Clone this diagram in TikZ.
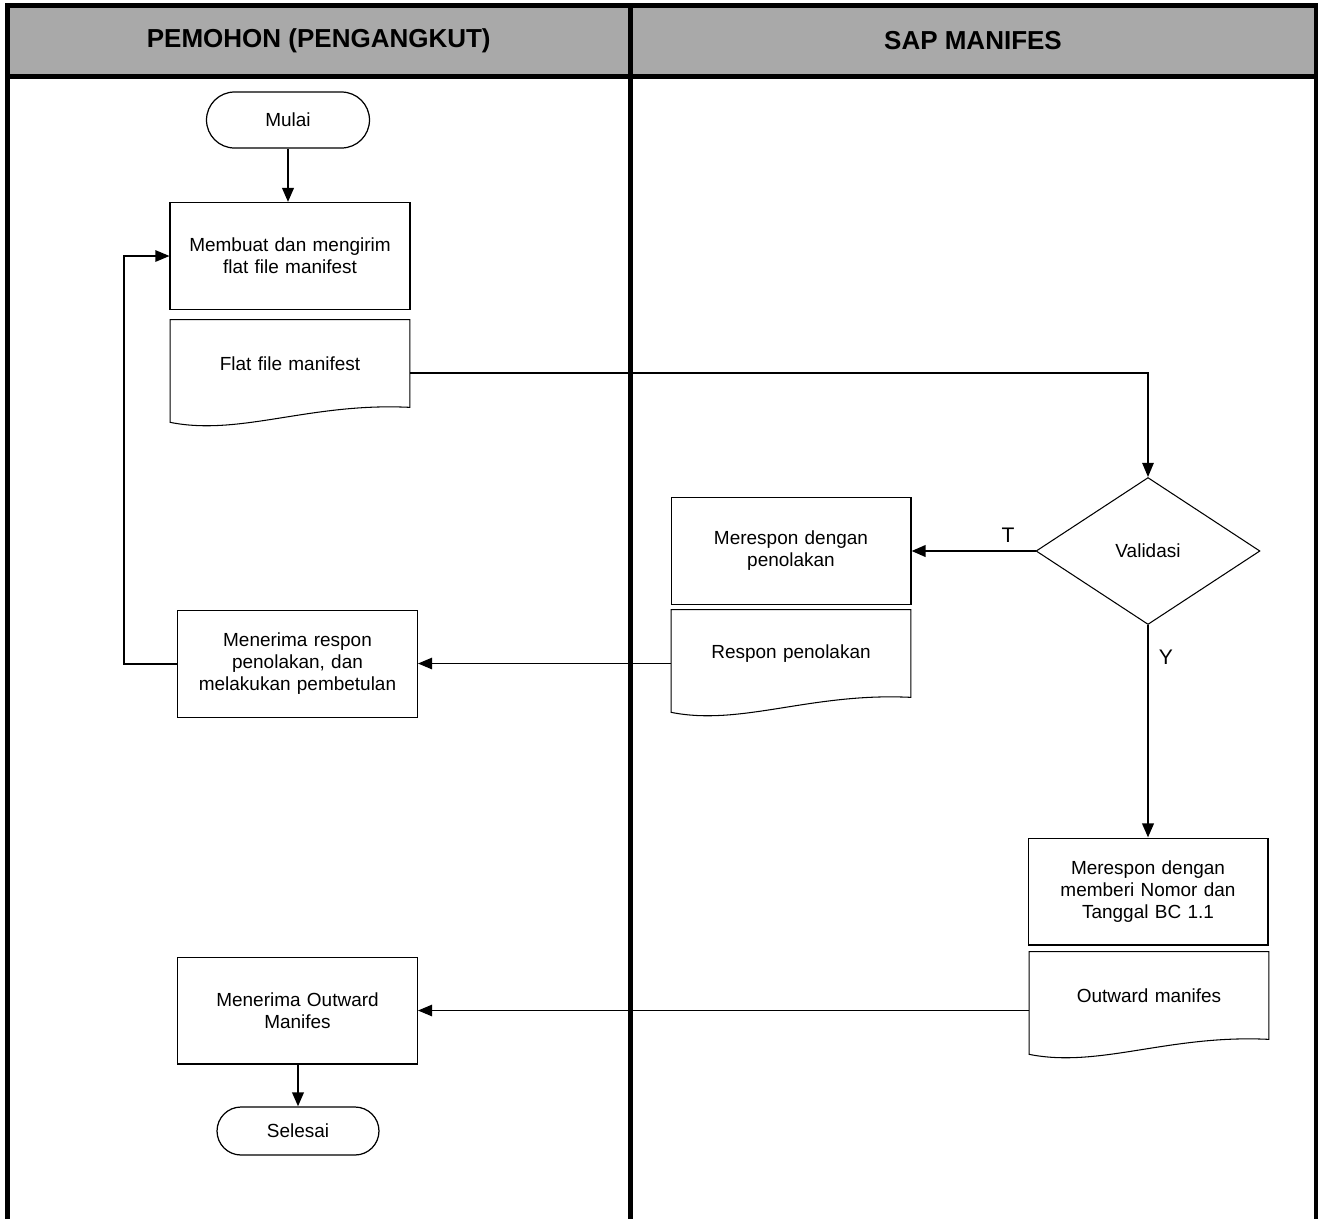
\documentclass[tikz,border=0pt]{standalone}
\usepackage{fontspec}
\setmainfont{Liberation Sans}
\usetikzlibrary{shapes.geometric,arrows.meta,calc}
\definecolor{hdrgray}{RGB}{169,169,169}
\begin{document}
\begin{tikzpicture}[x=0.02cm,y=-0.02cm,
  bodyfont/.style={font=\fontsize{10.8}{12.5}\selectfont},
  box/.style={draw, line width=0.6pt, minimum width=4.8cm, minimum height=2.14cm,
    text width=4.5cm, align=center, inner sep=0pt, bodyfont},
  docnode/.style={minimum width=4.78cm, minimum height=1.74cm,
    text width=4.5cm, align=center, inner sep=0pt, bodyfont},
  docline/.style={draw, line width=0.6pt, line join=miter},
  term/.style={draw, line width=0.7pt, inner sep=0pt, align=center, bodyfont},
  decision/.style={draw, diamond, line width=0.6pt, inner sep=0pt,
    minimum width=4.48cm, minimum height=2.94cm, bodyfont},
  hdr/.style={font=\fontsize{14.8}{17}\selectfont\bfseries},
  framel/.style={line width=2.85pt, line cap=rect},
  thick arrow/.style={line width=1.4pt, -{Triangle[length=8pt,width=6.5pt]}},
  thin arrow/.style={line width=0.8pt, -{Triangle[length=8pt,width=6.5pt]}},
  thin line/.style={line width=0.8pt},
  lbl/.style={font=\fontsize{12}{14}\selectfont}
]
\useasboundingbox (0,0) rectangle (1318,1218);
% header band and frame
\fill[hdrgray] (7.5,5) rectangle (1316,76.5);
\draw[framel] (7.5,1218) -- (7.5,5) -- (1316,5) -- (1316,1218);
\draw[framel] (7.5,76.5) -- (1316,76.5);
\draw[framel] (630,5) -- (630,1218);
\node[hdr] (h1) at (318.75,41) {PEMOHON (PENGANGKUT)};
\node[hdr] (h2) at (973,41) {SAP MANIFES};

% document-shape helper
\newcommand{\docoutline}[1]{%
  \draw[docline] (#1.north west) -- (#1.north east) -- (#1.south east)
    .. controls ($(#1.south east)+(-100,-5)$) and ($(#1.south west)+(70,29)$)
    .. ($(#1.south west)+(0,15)$) -- cycle;}

% nodes
\node[term, minimum width=3.26cm, minimum height=1.12cm, rounded corners=0.56cm] (mulai) at (288,120) {Mulai};
\node[box] (b1) at (290,256) {Membuat dan mengirim\\flat file manifest};
\node[docnode] (d1) at (290,363.5) {Flat file manifest};
\docoutline{d1}

\node[decision] (val) at (1148,551) {Validasi};
\node[box] (r1) at (791,551) {Merespon dengan\\penolakan};
\node[docnode] (d2) at (791,653.5) {Respon penolakan};
\docoutline{d2}

\node[box] (m1) at (297.5,664) {Menerima respon\\penolakan, dan\\melakukan pembetulan};

\node[box] (b3) at (1148,891.5) {Merespon dengan\\memberi Nomor dan\\Tanggal BC 1.1};
\node[docnode] (d3) at (1149,995.5) {Outward manifes};
\docoutline{d3}

\node[box] (m2) at (297.5,1010.5) {Menerima Outward\\Manifes};
\node[term, minimum width=3.24cm, minimum height=0.96cm, rounded corners=0.48cm] (selesai) at (298,1131) {Selesai};

% connectors
\draw[thick arrow] (mulai.south) -- (mulai.south |- b1.north);
\draw[thin line, -{Triangle[length=8pt,width=6.5pt]}] ($(d1.east)+(0,9.5)$) -| (val.north);
\draw[thick arrow] (val.west) -- (r1.east);
\node[lbl] (tl) at (1008,535) {T};
\draw[thick arrow] (val.south) -- (b3.north);
\node[lbl] (yl) at (1166,657) {Y};
\draw[thin arrow] ($(d2.west)+(0,10)$) -- (m1.east |- {$(d2.west)+(0,10)$});
\draw[thin arrow] (m1.west) -- ++(-53,0) |- (b1.west);
\draw[thin arrow] ($(d3.west)+(0,15)$) -- (m2.east |- {$(d3.west)+(0,15)$});
\draw[thick arrow] (m2.south -| selesai.north) -- (selesai.north);
\end{tikzpicture}
\end{document}
